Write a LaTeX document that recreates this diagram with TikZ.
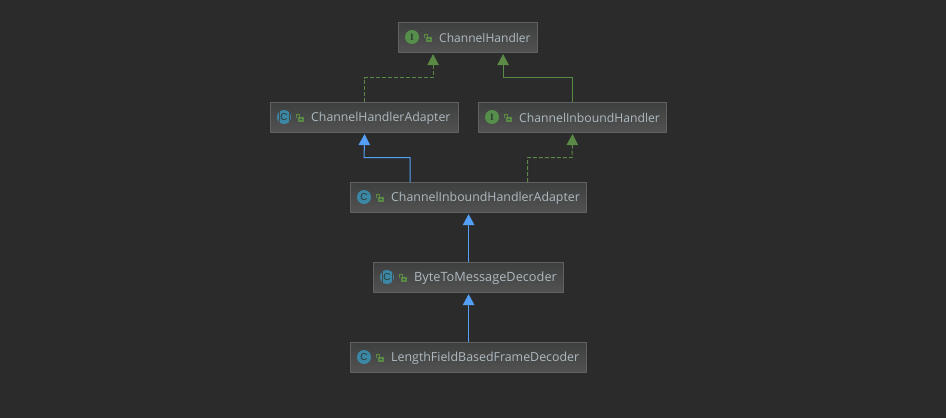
\documentclass[tikz,border=0pt]{standalone}
\usepackage{fontspec}
\setmainfont{Open Sans}
\newfontfamily\iconfont{Liberation Serif}
\newfontfamily\iconsans{Liberation Sans}
\usetikzlibrary{arrows.meta,calc}
\definecolor{bgc}{HTML}{2B2B2B}
\definecolor{boxtop}{HTML}{3E3F3F}
\definecolor{boxbot}{HTML}{525252}
\definecolor{boxline}{HTML}{5F6262}
\definecolor{txtc}{HTML}{AEB9C0}
\definecolor{gr}{HTML}{5A8A45}
\definecolor{bl}{HTML}{549FF7}
\definecolor{ifill}{HTML}{568F4B}
\definecolor{cfill}{HTML}{3B87A5}
\definecolor{iconink}{HTML}{2B3A30}
\tikzset{
 x=1pt,y=-1pt,
 umlbox/.style={draw=boxline,line width=1pt,top color=boxtop,bottom color=boxbot,minimum height=29.4pt,inner sep=0pt,anchor=north west},
 lbl/.style={text=txtc,font=\fontsize{#1}{14}\selectfont,inner sep=0pt,anchor=west},
 lbl/.default=12.3,
 badge/.style={circle,minimum size=14pt,inner sep=0pt,text=iconink},
 ibadge/.style={badge,fill=ifill,font=\iconfont\bfseries\fontsize{9.5}{10}\selectfont},
 cbadge/.style={badge,fill=cfill,font=\iconsans\fontsize{10}{10}\selectfont},
 abadge/.style={cbadge,path picture={\fill[boxtop!50!boxbot] ([xshift=-5.4pt]path picture bounding box.north) rectangle ([xshift=-4.5pt]path picture bounding box.south);\fill[boxtop!50!boxbot] ([xshift=4.5pt]path picture bounding box.north) rectangle ([xshift=5.4pt]path picture bounding box.south);}},
 conn/.style={line width=1pt,-{Triangle[length=11pt,width=11.5pt]},shorten >=1.5pt},
 impl/.style={conn,dash pattern=on 4pt off 2pt},
 greenln/.style={color=gr},
 blueln/.style={color=bl},
}
\newcommand{\lockicon}[2]{%
 \fill[gr] (#1,#2) rectangle ++(4.4,4);
 \fill[boxtop!60!boxbot] (#1+1.2,#2+1.2) rectangle ++(2,2.8);
 \fill[gr] (#1+2.4,#2+3) rectangle ++(5.6,5);
 \fill[boxtop!60!boxbot] (#1+4.4,#2+5) rectangle ++(1.6,1.2);
}
\begin{document}
\begin{tikzpicture}
\fill[bgc] (0,0) rectangle (946,418);
\useasboundingbox (0,0) rectangle (946,418);

\node[umlbox,minimum width=139pt] (ch) at (398.1,22.2) {};
\node[umlbox,minimum width=188pt] (cha) at (270.1,102.2) {};
\node[umlbox,minimum width=188pt] (cih) at (478.1,102.2) {};
\node[umlbox,minimum width=236pt] (ciha) at (350.1,182.2) {};
\node[umlbox,minimum width=190pt] (bmd) at (373.1,262.2) {};
\node[umlbox,minimum width=236pt] (lfd) at (350.1,342.2) {};

\node[ibadge] (ich) at (412,37) {I};
\node[ibadge] (icih) at (492,117) {I};
\node[abadge] (icha) at (284,117) {C};
\node[cbadge] (iciha) at (364,197) {C};
\node[abadge] (ibmd) at (387,277) {C};
\node[cbadge] (ilfd) at (364,357) {C};

\lockicon{424}{33.5}
\lockicon{296}{113.5}
\lockicon{504}{113.5}
\lockicon{376}{193.5}
\lockicon{399}{273.5}
\lockicon{376}{353.5}

\node[lbl=12.05] (tch) at (439,38) {ChannelHandler};
\node[lbl=12.3] (tcha) at (311,118) {ChannelHandlerAdapter};
\node[lbl=12.2] (tcih) at (519,118) {ChannelInboundHandler};
\node[lbl=12.35] (tciha) at (391,198) {ChannelInboundHandlerAdapter};
\node[lbl=12.75] (tbmd) at (414,278) {ByteToMessageDecoder};
\node[lbl=12.4] (tlfd) at (391,358) {LengthFieldBasedFrameDecoder};

\draw[impl,greenln] (cha.north) |- (433.1,77.5) -- ($(ch.south)+(-35,0)$);
\draw[conn,greenln] (cih.north) |- (503.1,77.5) -- ($(ch.south)+(35,0)$);
\draw[conn,blueln] ($(ciha.north)+(-58.6,0)$) |- (364.1,157.5) -- (cha.south);
\draw[impl,greenln] ($(ciha.north)+(59,0)$) |- (572.1,157.5) -- (cih.south);
\draw[conn,blueln] (bmd.north -| ciha.north) -- (ciha.south);
\draw[conn,blueln] (lfd.north) -- (bmd.south -| lfd.north);
\end{tikzpicture}
\end{document}
